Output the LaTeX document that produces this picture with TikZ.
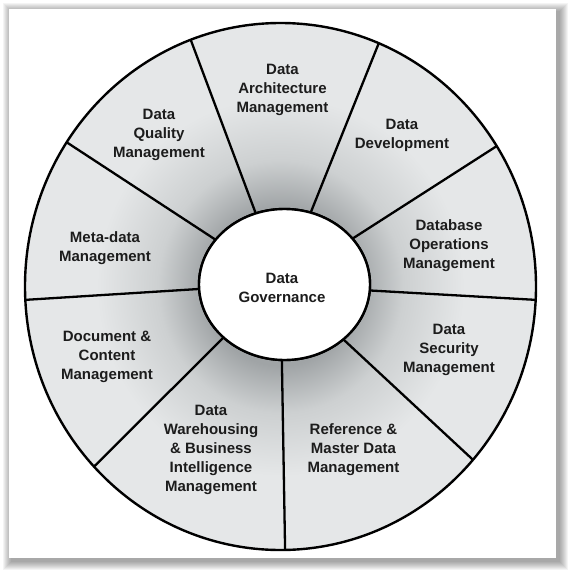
\documentclass[tikz,border=0pt]{standalone}
\usepackage{fontspec}
\setmainfont{Liberation Sans}
\usetikzlibrary{shapes.geometric}
\definecolor{wdark}{RGB}{160,164,166}
\definecolor{wmid}{RGB}{205,208,209}
\definecolor{wlight}{RGB}{229,231,232}
\definecolor{txt}{RGB}{28,28,28}
\pgfdeclareradialshading{wheelshade}{\pgfpoint{0bp}{0bp}}{color(0bp)=(wdark); color(7.5bp)=(wdark); color(12bp)=(wmid); color(18bp)=(wlight); color(25bp)=(wlight); color(50bp)=(wlight)}
\begin{document}
\begin{tikzpicture}[x=1pt,y=-1pt,
  rim/.style={ellipse, draw=black, line width=2.4pt, inner sep=0pt, outer sep=0pt,
    minimum width=511pt, minimum height=527pt, shading=wheelshade},
  hub/.style={ellipse, draw=black, fill=white, line width=2.4pt, inner sep=0pt, outer sep=0pt,
    minimum width=171pt, minimum height=151pt},
  spoke/.style={draw=black, line width=2.3pt},
  lbl/.style={align=center, text=txt, inner sep=0pt,
    font=\bfseries\fontsize{15}{19}\selectfont}]
\useasboundingbox (0,0) rectangle (570,573);
\fill[white] (0,0) rectangle (570,573);
% frame shadow
\foreach \i in {1,...,9}
  \fill[black, opacity=0.045] (12-\i,12-\i) rectangle (559+\i,561+\i);
\fill[white] (9,9) rectangle (556,558);
% wheel
\node[rim] (rim) at (280.5,286.5) {};
\node[hub] (dg) at (284.5,284.5) {};
\draw[spoke] (dg.112.9) -- (rim.110.6);
\draw[spoke] (dg.70.7) -- (rim.68.9);
\draw[spoke] (dg.34.7) -- (rim.33.4);
\draw[spoke] (dg.-4.5) -- (rim.-3.2);
\draw[spoke] (dg.-43) -- (rim.-42.5);
\draw[spoke] (dg.-92.3) -- (rim.-89.8);
\draw[spoke] (dg.-139.7) -- (rim.-136.9);
\draw[spoke] (dg.183.7) -- (rim.183.3);
\draw[spoke] (dg.147.5) -- (rim.146.3);
\node[hub] (dg2) at (284.5,284.5) {};
% labels
\node[lbl] (tdg) at (282,288) {Data\\Governance};
\node[lbl] (tda) at (282.5,90) {Data\\Architecture\\Management};
\node[lbl] (tdq) at (159,135) {Data\\Quality\\Management};
\node[lbl] (tdd) at (402,135.5) {Data\\Development};
\node[lbl] (tdb) at (449,246) {Database\\Operations\\Management};
\node[lbl] (tmd) at (105,248) {Meta-data\\Management};
\node[lbl] (tdc) at (107,357) {Document \&\\Content\\Management};
\node[lbl] (tds) at (449,350) {Data\\Security\\Management};
\node[lbl] (tdw) at (211,450) {Data\\Warehousing\\\& Business\\Intelligence\\Management};
\node[lbl] (trf) at (353.5,450) {Reference \&\\Master Data\\Management};
\end{tikzpicture}
\end{document}
